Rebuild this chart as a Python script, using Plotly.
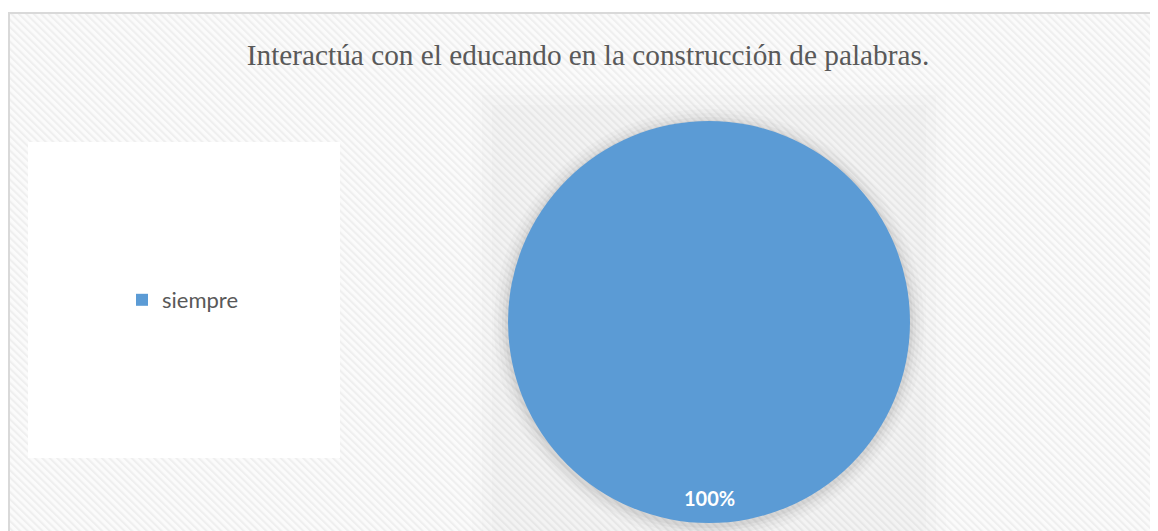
import base64
import plotly.graph_objects as go

labels = ["siempre"]
values = [100]
colors = ["#5B9BD5"]
title_text = "Interactúa con el educando en la construcción de palabras."

# page has an 8px body margin; figure coordinates = page coordinates - 8
OFF = 8
W, H = 1150, 523

def px(x):
    return (x - OFF) / W

def py(y):
    return (H - (y - OFF)) / H

svg = (
    '<svg xmlns="http://www.w3.org/2000/svg" width="1200" height="560">'
    '<defs><pattern id="p" width="5" height="5" patternUnits="userSpaceOnUse" patternTransform="rotate(-45)">'
    '<rect width="5" height="5" fill="#fbfbfb"/>'
    '<rect width="2" height="5" fill="#efefef"/></pattern></defs>'
    '<rect width="1200" height="560" fill="url(#p)"/></svg>'
)
img_src = "data:image/svg+xml;base64," + base64.b64encode(svg.encode()).decode()

cx, cy, r = 709, 322, 201  # page pixels

fig = go.Figure()
fig.add_trace(go.Pie(
    labels=labels, values=values,
    marker=dict(colors=colors, line=dict(width=0)),
    textinfo="none", sort=False, hoverinfo="label+percent",
    domain=dict(x=[px(cx - r), px(cx + r)], y=[py(cy + r), py(cy - r)]),
    showlegend=True,
))

total = sum(values)
pct = values[0] / total * 100

shapes = []
# legend white box
shapes.append(dict(type="rect", xref="paper", yref="paper", x0=px(28), x1=px(340), y0=py(458), y1=py(142),
                   line=dict(width=0), fillcolor="#ffffff", layer="below"))
# faint square shadow
for pad, op in [(36, 0.008), (26, 0.010), (16, 0.012)]:
    rr = r + pad
    shapes.append(dict(type="rect", xref="paper", yref="paper",
                       x0=px(cx - rr), x1=px(cx + rr), y0=py(cy + rr + 10), y1=py(cy - rr),
                       line=dict(width=0), fillcolor=f"rgba(0,0,0,{op})", layer="below"))
# soft circular shadow close to the pie
for pad, op in [(14, 0.02), (10, 0.025), (6, 0.03), (3, 0.04)]:
    d = 2 * (r + pad)
    shapes.append(dict(type="circle", xref="paper", yref="paper", xsizemode="pixel", ysizemode="pixel",
                       xanchor=px(cx), yanchor=py(cy + 2), x0=-d / 2, x1=d / 2, y0=-d / 2, y1=d / 2,
                       line=dict(width=0), fillcolor=f"rgba(0,0,0,{op})", layer="below"))
# chart frame
shapes.append(dict(type="rect", xref="paper", yref="paper", x0=px(9), x1=px(1175), y0=py(560), y1=py(13),
                   line=dict(color="#d9d9d9", width=2), fillcolor="rgba(0,0,0,0)", layer="above"))

fig.update_layout(
    width=W, height=H,
    margin=dict(l=0, r=0, t=0, b=0),
    paper_bgcolor="#ffffff",
    images=[dict(source=img_src, xref="paper", yref="paper", x=px(9), y=py(13),
                 sizex=1.1, sizey=1.1, xanchor="left", yanchor="top", sizing="stretch", layer="below")],
    shapes=shapes,
    title=dict(text=title_text, x=px(588), xanchor="center", y=py(55), yanchor="middle",
               font=dict(family="Liberation Serif", size=29.3, color="#595959")),
    legend=dict(x=px(122), y=py(300), xanchor="left", yanchor="middle",
                bgcolor="rgba(0,0,0,0)", font=dict(family="Lato", size=22, color="#595959"),
                itemwidth=30),
    annotations=[dict(text=f"<b>{pct:.0f}%</b>", x=px(cx), y=py(498), xref="paper", yref="paper",
                      xanchor="center", yanchor="middle",
                      showarrow=False, font=dict(family="Lato", size=20, color="#ffffff"))],
)

fig.write_html("out.html")
